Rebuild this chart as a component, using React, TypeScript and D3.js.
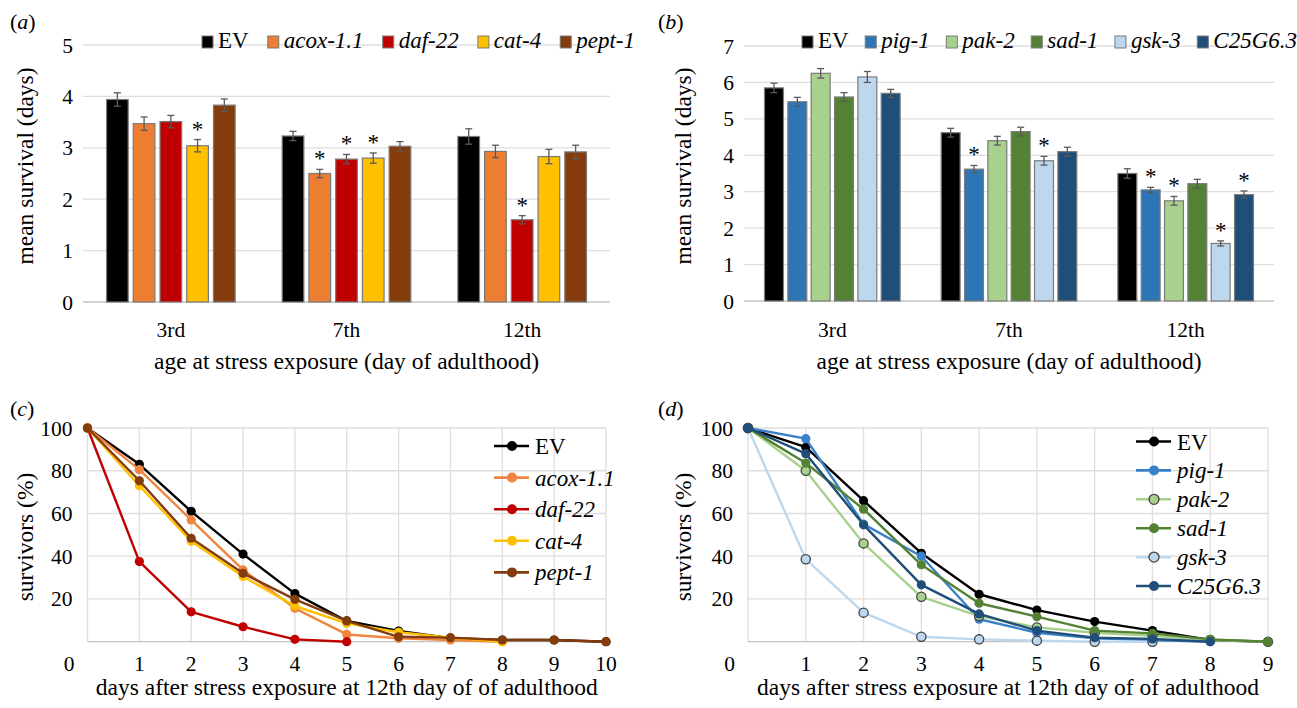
import React from 'react'
import * as d3 from 'd3'

const FONT = '"Liberation Serif", "Times New Roman", serif'

// bar panels: x categories
const AGES = ['3rd', '7th', '12th']

// (a)
const GENES_A = ['EV', 'acox-1.1', 'daf-22', 'cat-4', 'pept-1']
const COLORS_A = ['#000000', '#ED7D31', '#C00000', '#FFC000', '#843C0C']
const MEAN_A = [
  [3.94, 3.23, 3.22],
  [3.47, 2.5, 2.93],
  [3.51, 2.78, 1.6],
  [3.04, 2.8, 2.83],
  [3.83, 3.03, 2.92]
]
const ERR_A = [
  [0.13, 0.09, 0.15],
  [0.13, 0.08, 0.12],
  [0.12, 0.09, 0.08],
  [0.12, 0.1, 0.14],
  [0.12, 0.09, 0.13]
]
const STAR_A = [
  [0, 0, 0],
  [0, 1, 0],
  [0, 1, 1],
  [1, 1, 0],
  [0, 0, 0]
]

// (b)
const GENES_B = ['EV', 'pig-1', 'pak-2', 'sad-1', 'gsk-3', 'C25G6.3']
const COLORS_B = ['#000000', '#2E75B6', '#A9D18E', '#548235', '#BDD7EE', '#1F4E79']
const MEAN_B = [
  [5.85, 4.62, 3.5],
  [5.47, 3.62, 3.05],
  [6.25, 4.4, 2.75],
  [5.6, 4.65, 3.22],
  [6.15, 3.85, 1.58],
  [5.7, 4.1, 2.92]
]
const ERR_B = [
  [0.13, 0.12, 0.13],
  [0.12, 0.1, 0.07],
  [0.13, 0.12, 0.12],
  [0.12, 0.12, 0.12],
  [0.15, 0.12, 0.07],
  [0.11, 0.12, 0.1]
]
const STAR_B = [
  [0, 0, 0],
  [0, 1, 1],
  [0, 0, 1],
  [0, 0, 0],
  [0, 1, 1],
  [0, 0, 1]
]

// (c) survival curves, x = days 0..n
const DAYS_C = d3.range(0, 11)
const SERIES_C = ['EV', 'acox-1.1', 'daf-22', 'cat-4', 'pept-1']
const LINE_COLORS_C = ['#000000', '#F08540', '#C00000', '#FFC000', '#843C0C']
const EV_C = [100, 83, 61, 41, 22.5, 9.7, 5, 1.6, 0.8, 0.8, 0]
const ACOX_C = [100, 80.5, 57, 33.6, 15.6, 3.4, 1.6, 0.8, 0]
const DAF_C = [100, 37.5, 14, 7, 1.1, 0]
const CAT_C = [100, 73, 47, 30.5, 16.7, 8.6, 4.4, 1.9, 0]
const PEPT_C = [100, 75.3, 48.4, 32, 19.8, 9.7, 2.3, 1.9, 0.8, 0.8, 0]

// (d)
const DAYS_D = d3.range(0, 10)
const SERIES_D = ['EV', 'pig-1', 'pak-2', 'sad-1', 'gsk-3', 'C25G6.3']
const LINE_COLORS_D = ['#000000', '#3A82C8', '#A9D18E', '#548235', '#BDD7EE', '#1F4E79']
const OUTLINED_D = [false, false, true, false, true, false]
const EV_D = [100, 91, 66, 41.4, 22.2, 14.8, 9.4, 5.2, 0.8, 0]
const PIG_D = [100, 95, 55, 40, 10.5, 4.2, 1.6, 0.8, 0]
const PAK_D = [100, 80, 46, 21, 12, 6.7, 4.2, 2.8, 0.8, 0]
const SAD_D = [100, 83.6, 62, 36, 18, 11.7, 5.2, 3.9, 1.1, 0]
const GSK_D = [100, 38.6, 13.6, 2.3, 1.1, 0.5, 0, 0]
const C25_D = [100, 88, 54.7, 26.6, 13, 5.2, 1.9, 1.3, 0]

const BAR_TITLE = 'age at stress exposure (day of adulthood)'
const LINE_TITLE = 'days after stress exposure at 12th day of of adulthood'

let ctx = null
const measure = (s, size, italic) => {
  if (!ctx) ctx = document.createElement('canvas').getContext('2d')
  ctx.font = `${italic ? 'italic ' : ''}${size}px "Liberation Serif"`
  const w = ctx.measureText(s).width
  return w > 0 ? w : s.length * size * 0.45
}

const T = ({ style = {}, ...rest }) => <text {...rest} style={{ fontFamily: FONT, ...style }} />

const BarPanel = p => {
  const x0 = d3.scaleBand().domain(AGES).range([p.left, p.right])
  const x1 = d3
    .scaleBand()
    .domain(p.genes)
    .range([0, x0.bandwidth()])
    .paddingInner(0.19)
    .paddingOuter(0.88)
  const y = d3.scaleLinear().domain([0, p.yMax]).range([p.y0, p.yTop])
  const ticks = d3.range(0, p.yMax + 1)

  const rows = p.genes.flatMap((gene, gi) =>
    AGES.map((age, ai) => ({
      gene,
      age,
      v: p.means[gi][ai],
      e: p.errs[gi][ai],
      star: p.stars[gi][ai],
      color: p.colors[gi]
    }))
  )
  const cx = d => x0(d.age) + x1(d.gene) + x1.bandwidth() / 2

  // legend items spread between start and end
  const widths = p.genes.map(g => 16 + measure(g, 23, g !== 'EV'))
  const gap = (p.legendEnd - p.legendStart - d3.sum(widths)) / (p.genes.length - 1)
  const lx = widths.map((w, i) => p.legendStart + d3.sum(widths.slice(0, i)) + gap * i)

  return (
    <g>
      {ticks.map(t => (
        <line key={'g' + t} x1={p.left} x2={p.right} y1={y(t)} y2={y(t)}
          stroke={t === 0 ? '#c4c4c4' : '#dedede'} strokeWidth={1.3} />
      ))}
      {ticks.map(t => (
        <T key={'t' + t} x={p.left - 10} y={y(t) + 7.5} textAnchor="end" fontSize={21.5}>{t}</T>
      ))}
      {AGES.map(a => (
        <T key={a} x={x0(a) + x0.bandwidth() / 2} y={337} textAnchor="middle" fontSize={21.5}>{a}</T>
      ))}
      {rows.map((d, i) => (
        <g key={'b' + i}>
          <rect x={x0(d.age) + x1(d.gene)} y={y(d.v)} width={x1.bandwidth()} height={y(0) - y(d.v)}
            fill={d.color} stroke="#7a7a7a" strokeWidth={1.2} />
          <g stroke="#5a5a5a" strokeWidth={1.3}>
            <line x1={cx(d)} x2={cx(d)} y1={y(d.v + d.e)} y2={y(d.v - d.e)} />
            <line x1={cx(d) - 3.5} x2={cx(d) + 3.5} y1={y(d.v + d.e)} y2={y(d.v + d.e)} />
            <line x1={cx(d) - 3.5} x2={cx(d) + 3.5} y1={y(d.v - d.e)} y2={y(d.v - d.e)} />
          </g>
          {d.star ? (
            <T x={cx(d)} y={y(d.v + d.e) - 3} textAnchor="middle" fontSize={23}>*</T>
          ) : null}
        </g>
      ))}
      {p.genes.map((g, i) => (
        <g key={'l' + g} transform={`translate(${lx[i]},0)`}>
          <rect y={p.legendY - 12} width={11} height={12} fill={p.colors[i]} stroke="#7a7a7a" strokeWidth={1} />
          <T x={16} y={p.legendY} fontSize={23} fontStyle={g === 'EV' ? 'normal' : 'italic'}>{g}</T>
        </g>
      ))}
      <T x={(p.left + p.right) / 2} y={369} textAnchor="middle" fontSize={23.5}>{BAR_TITLE}</T>
      <T transform={`translate(${p.titleX},166) rotate(-90)`} textAnchor="middle" dy="0.32em" fontSize={23.5}>
        mean survival (days)
      </T>
    </g>
  )
}

const LinePanel = p => {
  const x = d3.scaleLinear().domain([0, p.days.length - 1]).range([p.left, p.right])
  const y = d3.scaleLinear().domain([0, 100]).range([641.7, 428])
  const yTicks = d3.range(0, 101, 20)
  const line = d3
    .line()
    .x((d, i) => x(i))
    .y(d => y(d))

  return (
    <g>
      {p.days.map(d => (
        <line key={'v' + d} x1={x(d)} x2={x(d)} y1={y(100)} y2={y(0)} stroke="#dedede" strokeWidth={1.3} />
      ))}
      {yTicks.map(t => (
        <line key={'h' + t} x1={p.left} x2={p.right} y1={y(t)} y2={y(t)}
          stroke={t === 0 ? '#c4c4c4' : '#dedede'} strokeWidth={1.3} />
      ))}
      {yTicks.filter(t => t > 0).map(t => (
        <T key={'yt' + t} x={p.left - 15} y={y(t) + 7.5} textAnchor="end" fontSize={21.5}>{t}</T>
      ))}
      {p.days.map(d => (
        <T key={'xt' + d} x={d === 0 ? x(d) - 18.5 : x(d)} y={671} textAnchor="middle" fontSize={21.5}>{d}</T>
      ))}
      {p.values.map((vals, si) => (
        <g key={'s' + si}>
          <path d={line(vals)} fill="none" stroke={p.colors[si]} strokeWidth={2.4} strokeLinejoin="round" />
          {vals.map((v, i) => (
            <circle key={i} cx={x(i)} cy={y(v)} r={4.6} fill={p.colors[si]}
              stroke={p.outlined[si] ? '#404040' : 'none'} strokeWidth={1.3} />
          ))}
        </g>
      ))}
      {p.series.map((name, i) => {
        const ly = p.legendY + i * p.legendStep
        return (
          <g key={'lg' + name}>
            <line x1={p.legendX} x2={p.legendX + 35} y1={ly} y2={ly} stroke={p.colors[i]} strokeWidth={2.6} />
            <circle cx={p.legendX + 18} cy={ly} r={5} fill={p.colors[i]}
              stroke={p.outlined[i] ? '#404040' : 'none'} strokeWidth={1.3} />
            <T x={p.legendX + 41} y={ly + 8} fontSize={23} fontStyle={name === 'EV' ? 'normal' : 'italic'}>{name}</T>
          </g>
        )
      })}
      <T x={(p.left + p.right) / 2} y={695} textAnchor="middle" fontSize={23.5}>{LINE_TITLE}</T>
      <T transform={`translate(${p.titleX},537) rotate(-90)`} textAnchor="middle" dy="0.32em" fontSize={23.5}>
        survivors (%)
      </T>
    </g>
  )
}

const PanelLabel = ({ x, y, letter }) => (
  <T x={x} y={y} fontSize={22}>
    (<tspan fontStyle="italic">{letter}</tspan>)
  </T>
)

const App = () => (
  <div style={{ position: 'absolute', left: 0, top: 0 }}>
    <svg width={1297} height={708} style={{ display: 'block', background: '#fff' }}>
      <BarPanel left={83} right={610} y0={302} yTop={45} yMax={5}
        genes={GENES_A} colors={COLORS_A} means={MEAN_A} errs={ERR_A} stars={STAR_A}
        legendY={48} legendStart={202} legendEnd={635} titleX={25} />
      <BarPanel left={744} right={1274} y0={301} yTop={46} yMax={7}
        genes={GENES_B} colors={COLORS_B} means={MEAN_B} errs={ERR_B} stars={STAR_B}
        legendY={48} legendStart={802} legendEnd={1297} titleX={683} />
      <LinePanel left={87.5} right={606} days={DAYS_C} series={SERIES_C} colors={LINE_COLORS_C}
        outlined={SERIES_C.map(() => false)} values={[EV_C, ACOX_C, DAF_C, CAT_C, PEPT_C]}
        legendX={494} legendY={446} legendStep={31.6} titleX={25} />
      <LinePanel left={748} right={1268} days={DAYS_D} series={SERIES_D} colors={LINE_COLORS_D}
        outlined={OUTLINED_D} values={[EV_D, PIG_D, PAK_D, SAD_D, GSK_D, C25_D]}
        legendX={1136} legendY={441.5} legendStep={28.9} titleX={683} />
      <PanelLabel x={10} y={29} letter="a" />
      <PanelLabel x={658} y={29} letter="b" />
      <PanelLabel x={10} y={416} letter="c" />
      <PanelLabel x={658} y={416} letter="d" />
    </svg>
  </div>
)

export default App
